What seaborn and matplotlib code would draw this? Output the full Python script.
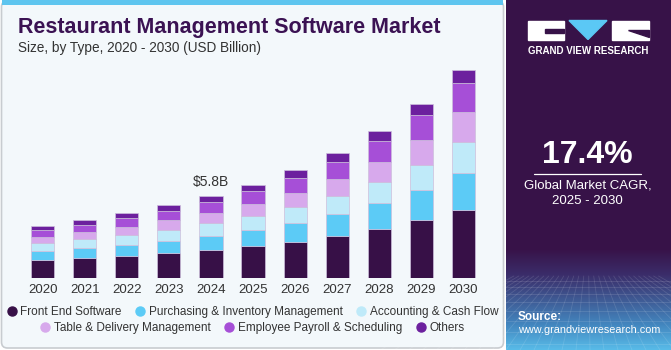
import numpy as np
import pandas as pd
import matplotlib
matplotlib.use('Agg')
import matplotlib.pyplot as plt
from matplotlib.patches import Rectangle, Polygon, FancyBboxPatch
from matplotlib.lines import Line2D
import seaborn as sns

# --- data (USD Billion) ---
years = [2020, 2021, 2022, 2023, 2024, 2025, 2026, 2027, 2028, 2029, 2030]
front_end = [1.32, 1.46, 1.60, 1.79, 2.02, 2.26, 2.59, 2.99, 3.49, 4.10, 4.85]
purchasing = [0.64, 0.71, 0.78, 0.87, 0.99, 1.17, 1.32, 1.53, 1.82, 2.16, 2.62]
accounting = [0.54, 0.59, 0.69, 0.76, 0.88, 0.97, 1.13, 1.32, 1.51, 1.77, 2.15]
table_delivery = [0.42, 0.50, 0.57, 0.69, 0.73, 0.85, 1.01, 1.18, 1.44, 1.75, 2.12]
payroll = [0.49, 0.52, 0.62, 0.66, 0.78, 0.92, 1.02, 1.20, 1.46, 1.75, 2.09]
others = [0.28, 0.33, 0.35, 0.40, 0.42, 0.47, 0.57, 0.62, 0.69, 0.80, 0.95]

segments = ['Front End Software', 'Purchasing & Inventory Management',
            'Accounting & Cash Flow', 'Table & Delivery Management',
            'Employee Payroll & Scheduling', 'Others']
colors = ['#371047', '#5ccbf6', '#bfeaf9', '#d7a9ec', '#a64fd7', '#6c209e']
label_year = 2024
label_text = '$5.8B'

wide = pd.DataFrame({'year': years, segments[0]: front_end, segments[1]: purchasing,
                     segments[2]: accounting, segments[3]: table_delivery,
                     segments[4]: payroll, segments[5]: others})
df = wide.melt(id_vars='year', var_name='segment', value_name='value')

sns.set_style('white')
plt.rcParams['font.family'] = ['Liberation Sans', 'DejaVu Sans']

W, H = 671, 350
fig = plt.figure(figsize=(W / 100, H / 100), dpi=100)
fig.patch.set_facecolor('white')

# --- background layer in pixel coords ---
bg = fig.add_axes([0, 0, 1, 1], zorder=0)
bg.axis('off')
purple = '#371248'
bg.add_patch(FancyBboxPatch((1.5, 1), 502, 347, boxstyle='round,pad=0,rounding_size=6',
                            facecolor='#f3f8fb', edgecolor='#c8ccd0', lw=1.2))
bg.add_patch(Rectangle((2, 0), 501, 5, color='#5ec5ef', lw=0))

# right panel, purple fading to blue at the bottom
ys = np.linspace(0, 350, 351)
stops_y = [0, 250, 275, 300, 325, 350]
stops_c = ['#371248', '#381349', '#3b2d6a', '#3f5a94', '#4386bf', '#58bbe8']
rgb = np.array([matplotlib.colors.to_rgb(c) for c in stops_c])
grad = np.stack([np.interp(ys, stops_y, rgb[:, i]) for i in range(3)], axis=1)
grad = np.repeat(grad[:, None, :], 2, axis=1)
bg.imshow(grad, extent=(506, 671, 350, 0), origin='upper', aspect='auto', zorder=1)
# faint perspective grid
for gy in [281, 287, 294, 302, 311, 321, 332, 344]:
    bg.plot([506, 671], [gy, gy], color='white', alpha=0.13, lw=0.6, zorder=2)
for bx in np.arange(380, 800, 14):
    x0 = 588 + (bx - 588) * (276 - 235) / 115
    bg.plot([x0, bx], [276, 350], color='white', alpha=0.12, lw=0.6, zorder=2)

# logo
bg.add_patch(Rectangle((527.5, 20.5), 36, 19, color='white', zorder=3))
bg.add_patch(Rectangle((545, 29), 18.5, 4, color=purple, zorder=4))
bg.add_patch(Polygon([(569, 20.5), (607, 20.5), (588, 39.5)], color='#5bc8f5', zorder=3))
bg.add_patch(Rectangle((612, 20.5), 36.5, 19, color='white', zorder=3))
bg.add_patch(Polygon([(628, 29.5), (648.5, 29.5), (648.5, 36.5)], color=purple, zorder=4))
bg.text(588, 51, 'GRAND VIEW RESEARCH', color='white', fontsize=7, fontweight='bold',
        ha='center', va='center', zorder=5)

bg.text(587.5, 155, '17.4%', color='white', fontsize=23, fontweight='bold',
        ha='center', va='center', zorder=5)
bg.plot([534, 641], [173.5, 173.5], color='white', lw=0.9, zorder=5)
bg.text(587.5, 186, 'Global Market CAGR,', color='white', fontsize=9.5,
        ha='center', va='center', zorder=5)
bg.text(587.5, 201, '2025 - 2030', color='white', fontsize=9.5,
        ha='center', va='center', zorder=5)
bg.text(518, 317, 'Source:', color='white', fontsize=8.5, fontweight='bold',
        ha='left', va='center', zorder=5)
bg.text(518, 330, 'www.grandviewresearch.com', color='white', fontsize=7.8,
        ha='left', va='center', zorder=5)

# titles
bg.text(18, 28, 'Restaurant Management Software Market', color='#3b1253',
        fontsize=15.5, fontweight='bold', ha='left', va='center')
bg.text(18, 48, 'Size, by Type, 2020 - 2030 (USD Billion)', color='#333333',
        fontsize=9.8, ha='left', va='center')

bg.set_xlim(0, W)
bg.set_ylim(H, 0)

# --- stacked bars ---
ax = fig.add_axes([21.7 / W, 71.7 / H, 462.7 / W, 226 / H], zorder=2)
ax.set_facecolor('none')
# histplot stacks the last hue level at the bottom, so pass the order reversed
sns.histplot(data=df, x='year', hue='segment', weights='value', multiple='stack',
             discrete=True, shrink=0.55, hue_order=segments[::-1],
             palette=dict(zip(segments, colors)), alpha=1, edgecolor='#cdbfdc',
             linewidth=0.5, legend=False, ax=ax)
ax.set_xlim(years[0] - 0.5, years[-1] + 0.5)
ax.set_ylim(0, 16)
ax.set_xticks(years)
ax.set_xticklabels([str(y) for y in years], fontsize=9.5, color='#333333')
ax.tick_params(axis='x', length=0, pad=4)
ax.set_yticks([])
ax.set_xlabel('')
ax.set_ylabel('')
for s in ax.spines.values():
    s.set_visible(False)

total_2024 = wide.loc[wide['year'] == label_year, segments].sum(axis=1).iloc[0]
ax.annotate(label_text, (label_year, total_2024), xytext=(0, 5), textcoords='offset points',
            ha='center', va='bottom', fontsize=10, color='#333333')

# --- legend in two centered rows ---
handles = [Line2D([], [], marker='o', linestyle='', markersize=6.5, color=c) for c in colors]
for row, yp in [(0, 311.7), (1, 328)]:
    idx = range(row * 3, row * 3 + 3)
    fig.legend([handles[i] for i in idx], [segments[i] for i in idx], ncol=3,
               loc='center', bbox_to_anchor=(253 / W, 1 - yp / H), frameon=False,
               fontsize=8.5, handlelength=0.7, handletextpad=0.4, columnspacing=1.2,
               labelcolor='#333333', borderaxespad=0, borderpad=0)

fig.savefig('out.png', dpi=100)
